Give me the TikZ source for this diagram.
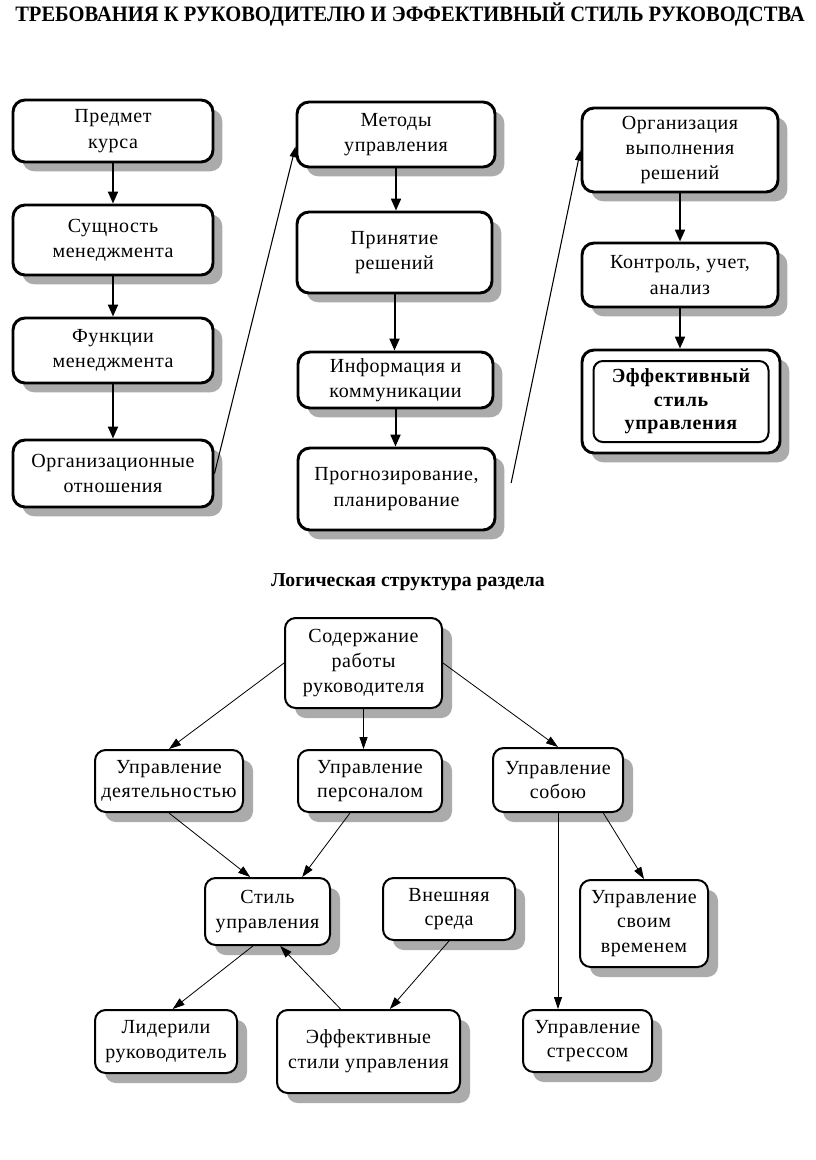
\documentclass[tikz,border=0pt]{standalone}
\usepackage{graphicx}
\usepackage{fontspec}
\setmainfont{Liberation Serif}
\newfontfamily\boxfont[LetterSpace=3]{Liberation Serif}
\usetikzlibrary{shadows,arrows.meta,calc}
\begin{document}
\begin{tikzpicture}[x=0.75pt,y=-0.75pt,
  bsz/.style 2 args={minimum width=#1*0.75pt, minimum height=#2*0.75pt},
  topbox/.style={draw, line width=2.2pt, rounded corners=9pt, fill=white,
    align=center, inner sep=0pt,
    font=\boxfont\fontsize{15}{19}\selectfont,
    drop shadow={shadow xshift=7pt, shadow yshift=-7pt, fill=black!33, opacity=1}},
  innerbox/.style={draw, line width=1.5pt, rounded corners=7pt,
    align=center, inner sep=0pt,
    font=\boxfont\bfseries\fontsize{15}{17.5}\selectfont},
  botbox/.style={draw, line width=1.5pt, rounded corners=8pt, fill=white,
    align=center, inner sep=0pt,
    font=\boxfont\fontsize{15}{18.5}\selectfont,
    drop shadow={shadow xshift=7.5pt, shadow yshift=-7.5pt, fill=black!33, opacity=1}},
  toparrow/.style={line width=1.5pt, -{Triangle[width=7.5pt,length=9pt]}},
  longarrow/.style={line width=0.8pt, -{Triangle[width=5pt,length=8pt]}},
  botarrow/.style={line width=0.6pt, -{Triangle[width=6pt,length=9pt]}},
  ttl/.style={inner sep=0pt, font=\bfseries}
]
\useasboundingbox (0,0) rectangle (816,1160);

% Title
\node[ttl] (title) at (410,14) {\resizebox{592pt}{\height}{\fontsize{16.5}{16.5}\selectfont ТРЕБОВАНИЯ К РУКОВОДИТЕЛЮ И ЭФФЕКТИВНЫЙ СТИЛЬ РУКОВОДСТВА}};

% Column 1
\node[topbox, bsz={200}{62}] (t1) at (113,131) {Предмет\\курса};
\node[topbox, bsz={200}{70}] (t2) at (113,240) {Сущность\\менеджмента};
\node[topbox, bsz={200}{65}] (t3) at (113,350.5) {Функции\\менеджмента};
\node[topbox, bsz={200}{67}] (t4) at (113,473.5) {Организационные\\отношения};

% Column 2
\node[topbox, bsz={198}{65}] (m1) at (396,134.5) {Методы\\управления};
\node[topbox, bsz={195}{81}] (m2) at (394.5,252.5) {Принятие\\решений};
\node[topbox, bsz={195}{56}] (m3) at (395.5,380) {Информация и\\коммуникации};
\node[topbox, bsz={197}{82}] (m4) at (396.5,489) {Прогнозирование,\\планирование};

% Column 3
\node[topbox, bsz={196}{84}] (r1) at (680,150) {Организация\\выполнения\\решений};
\node[topbox, bsz={196}{64}] (r2) at (680,275) {Контроль, учет,\\анализ};
\node[topbox, bsz={198}{103}] (r3) at (681,401.5) {};
\node[innerbox, bsz={175}{81}] (r3i) at (r3.center) {Эффективный\\стиль\\управления};

% Top arrows
\draw[toparrow] (t1.south) -- (t1.south |- t2.north);
\draw[toparrow] (t2.south) -- (t2.south |- t3.north);
\draw[toparrow] (t3.south) -- (t3.south |- t4.north);
\draw[toparrow] (m1.south) -- (m1.south |- m2.north);
\draw[toparrow] (m2.south) -- (m2.south |- m3.north);
\draw[toparrow] (m3.south) -- (m3.south |- m4.north);
\draw[toparrow] (r1.south) -- (r1.south |- r2.north);
\draw[toparrow] (r2.south) -- (r2.south |- r3.north);
\draw[longarrow] (t4.east) -- ([yshift=-9pt]m1.west);
\draw[longarrow] ([xshift=11pt,yshift=4.5pt]m4.east) -- (r1.west);

% Caption
\node[ttl, font=\bfseries\fontsize{14.8}{14.8}\selectfont] (cap) at (408,582) {Логическая структура раздела};

% Bottom diagram
\node[botbox, bsz={157}{90}] (b1) at (363.5,663) {Содержание\\работы\\руководителя};
\node[botbox, bsz={148}{62}] (b2) at (169,781) {Управление\\деятельностью};
\node[botbox, bsz={144}{62}] (b3) at (370,781) {Управление\\персоналом};
\node[botbox, bsz={130}{64}] (b4) at (558,780) {Управление\\собою};
\node[botbox, bsz={125}{67}] (b5) at (267.5,911.5) {Стиль\\управления};
\node[botbox, bsz={132}{62}] (b6) at (449,909) {Внешняя\\среда};
\node[botbox, bsz={128}{87}] (b7) at (644,923.5) {Управление\\своим\\временем};
\node[botbox, bsz={142}{63}] (b8) at (166,1041.5) {Лидерили\\руководитель};
\node[botbox, bsz={183}{83}] (b9) at (368.5,1051.5) {Эффективные\\стили управления};
\node[botbox, bsz={129}{62}] (b10) at (587.5,1041) {Управление\\стрессом};

\draw[botarrow] (b1.west) -- (b2.north);
\draw[botarrow] (b1.south) -- (b1.south |- b3.north);
\draw[botarrow] (b1.east) -- (b4.north);
\draw[botarrow] (b2.south) -- ([xshift=-13pt]b5.north);
\draw[botarrow] ([xshift=-15pt]b3.south) -- ([xshift=26pt]b5.north);
\draw[botarrow] ([xshift=34pt]b4.south) -- (b7.north);
\draw[botarrow] (b4.south) -- (b4.south |- b10.north);
\draw[botarrow] ([xshift=-11pt]b5.south) -- ([xshift=5pt]b8.north);
\draw[botarrow] ([xshift=-21pt]b9.north) -- ([xshift=9.5pt]b5.south);
\draw[botarrow] (b6.south) -- ([xshift=16pt]b9.north);
\end{tikzpicture}
\end{document}
